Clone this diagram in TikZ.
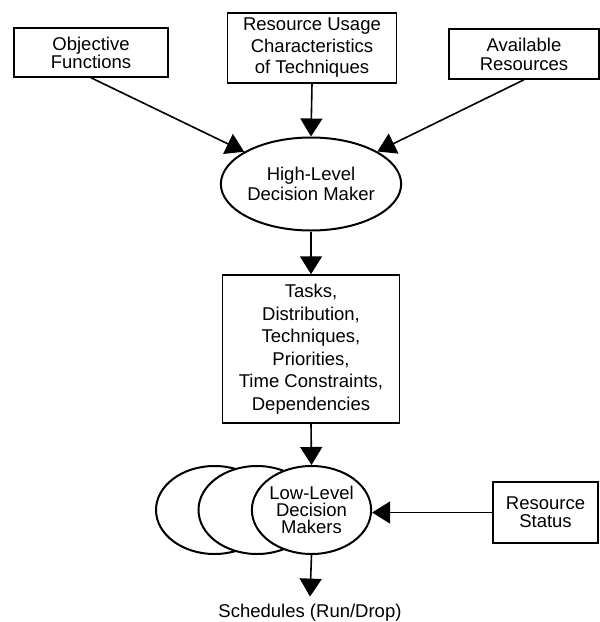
\documentclass[tikz,border=0pt]{standalone}
\usepackage{fontspec}
\setmainfont{Liberation Sans}
\usetikzlibrary{shapes.geometric,arrows.meta}
\begin{document}
\begin{tikzpicture}[x=1pt,y=-1pt,
  every node/.style={font=\fontsize{18.5}{21}\selectfont, align=center},
  inbox/.style={draw, line width=1.5pt, inner sep=0pt},
  maker/.style={draw, ellipse, line width=2pt, fill=white, inner sep=0pt},
  flow/.style={line width=1.6pt, -{Triangle[length=18pt,width=22pt]}}
]
\useasboundingbox (0,0) rectangle (600,622);

% inputs to the high-level decision maker
\node[inbox, minimum width=154pt, minimum height=49pt,
      font=\fontsize{18.5}{18}\selectfont] (obj) at (91,52.5) {Objective\\Functions};
\node[inbox, minimum width=169pt, minimum height=70pt,
      font=\fontsize{18.5}{21.5}\selectfont] (ru) at (312,48) {Resource Usage\\Characteristics\\of Techniques};
\node[inbox, minimum width=150pt, minimum height=50pt,
      font=\fontsize{18.5}{19}\selectfont] (avail) at (524,54) {Available\\Resources};

% high-level decision maker
\node[maker, minimum width=169pt, minimum height=93pt,
      font=\fontsize{18.5}{20}\selectfont] (hl) at (311,184) {High-Level\\Decision Maker};

% plan handed down
\node[inbox, minimum width=177pt, minimum height=148pt,
      font=\fontsize{18.5}{22.5}\selectfont] (plan) at (311,349)
  {Tasks,\\Distribution,\\Techniques,\\Priorities,\\Time Constraints,\\Dependencies};

% stack of low-level decision makers
\node[maker, minimum width=117pt, minimum height=88pt] (llc) at (214.5,510) {};
\node[maker, minimum width=117pt, minimum height=88pt] (llb) at (257,510) {};
\node[maker, minimum width=117pt, minimum height=88pt,
      font=\fontsize{18.5}{17}\selectfont] (ll) at (311.5,510) {Low-Level\\Decision\\Makers};

% resource status feedback
\node[inbox, minimum width=105pt, minimum height=61pt,
      font=\fontsize{18.5}{18}\selectfont] (rs) at (545.5,512.5) {Resource\\Status};

% output
\node[inner sep=0pt, outer ysep=7pt, anchor=base] (sched) at (310,617) {Schedules (Run/Drop)};

% connectors
\draw[flow] (obj.south) -- (hl);
\draw[flow] (ru.south) -- (hl.north);
\draw[flow] (avail.south) -- (hl);
\draw[flow] (hl.south) -- (plan.north);
\draw[flow] (plan.south) -- (ll.north);
\draw[flow] (rs.west) -- (ll.east |- rs.west);
\draw[flow] (ll.south) -- (sched.north);
\end{tikzpicture}
\end{document}
